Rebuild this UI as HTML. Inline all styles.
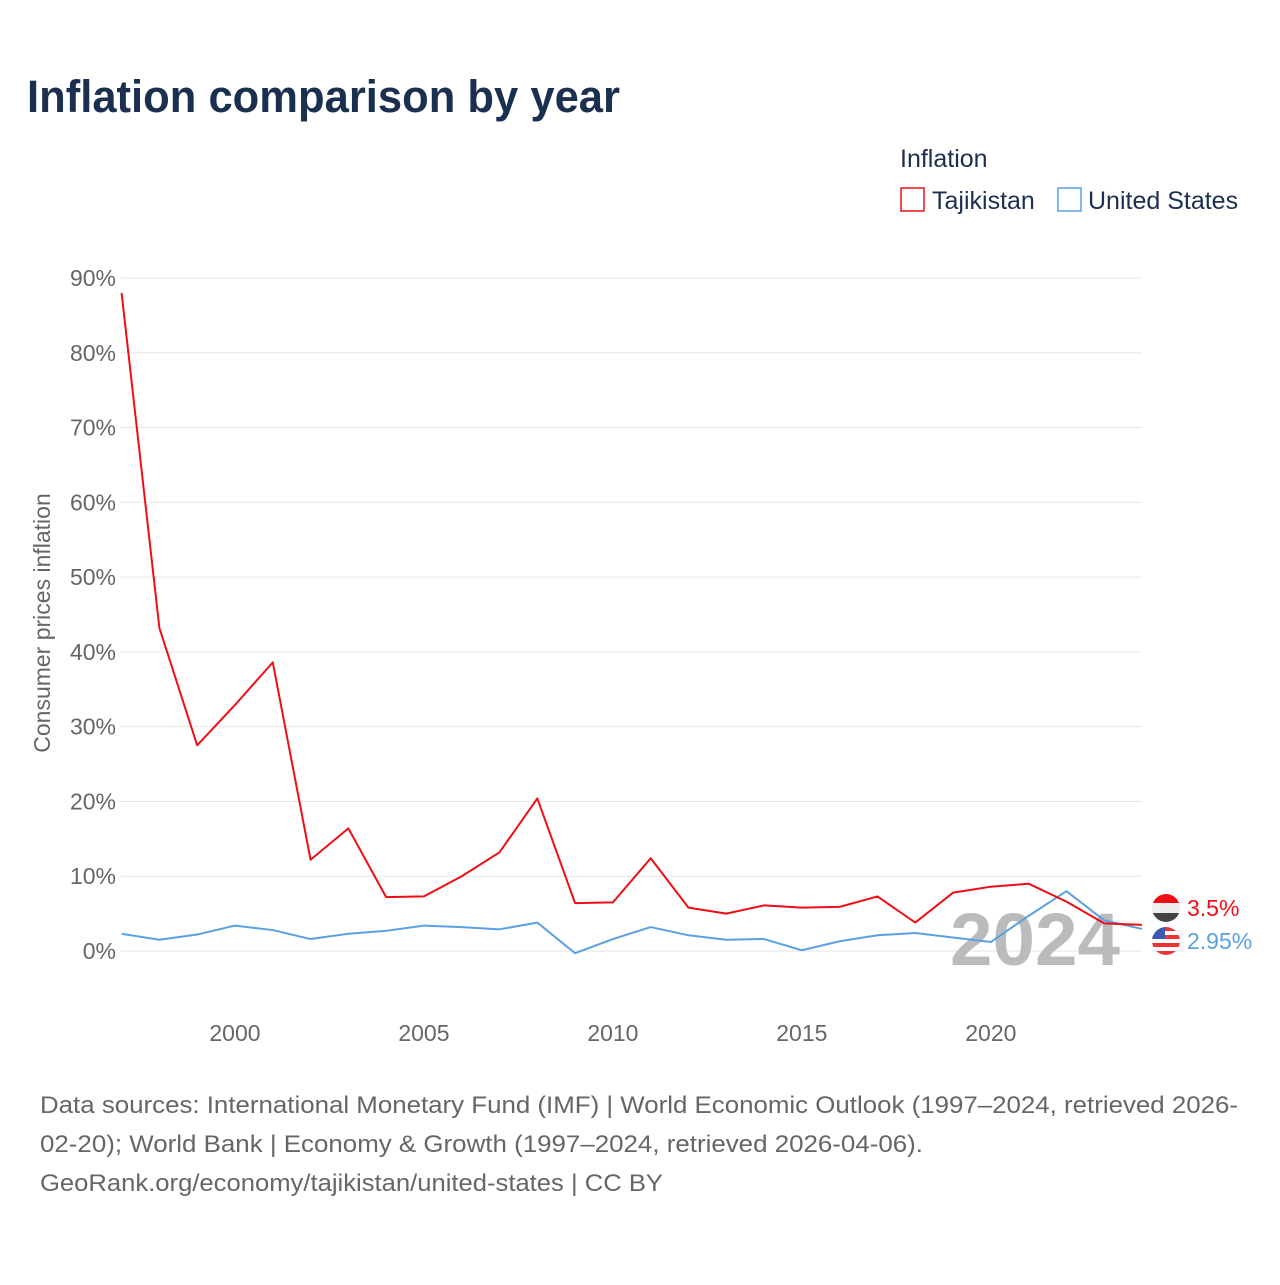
<!DOCTYPE html>
<html><head><meta charset="utf-8"><style>
body{margin:0;background:#fff;width:1280px;height:1280px;overflow:hidden;font-family:"Liberation Sans",sans-serif}
</style></head><body>
<svg width="1280" height="1280" xmlns="http://www.w3.org/2000/svg" font-family="Liberation Sans, sans-serif">
<defs>
<clipPath id="c1"><circle cx="1166" cy="908" r="14"/></clipPath>
<clipPath id="c2"><circle cx="1166" cy="941" r="14"/></clipPath>
</defs>
<text x="27" y="112" font-size="45" font-weight="bold" fill="#1b3050" textLength="593" lengthAdjust="spacingAndGlyphs">Inflation comparison by year</text>
<text x="900" y="167" font-size="25" fill="#1b3050">Inflation</text>
<g><rect x="901" y="188" width="23" height="23" fill="none" stroke="#f00e16" stroke-width="1.5"/><text x="932" y="209" font-size="25" fill="#1b3050">Tajikistan</text></g>
<g><rect x="1058" y="188" width="23" height="23" fill="none" stroke="#5aa1e3" stroke-width="1.5"/><text x="1088" y="209" font-size="25" fill="#1b3050">United States</text></g>
<g id="grid"></g>
<g id="yticks"></g>
<g id="xticks"></g>
<text transform="translate(50,623) rotate(-90)" text-anchor="middle" font-size="23" fill="#666">Consumer prices inflation</text>
<text x="1120" y="965" text-anchor="end" font-size="74" font-weight="bold" fill="#bbb" textLength="170" lengthAdjust="spacingAndGlyphs">2024</text>
<g id="series"></g>
<text x="40" y="1113" font-size="24" fill="#666" textLength="1198" lengthAdjust="spacingAndGlyphs">Data sources: International Monetary Fund (IMF) | World Economic Outlook (1997–2024, retrieved 2026-</text>
<text x="40" y="1152" font-size="24" fill="#666" textLength="883" lengthAdjust="spacingAndGlyphs">02-20); World Bank | Economy &amp; Growth (1997–2024, retrieved 2026-04-06).</text>
<text x="40" y="1191" font-size="24" fill="#666" textLength="623" lengthAdjust="spacingAndGlyphs">GeoRank.org/economy/tajikistan/united-states | CC BY</text>
</svg>
<script>
const years=[1997,1998,1999,2000,2001,2002,2003,2004,2005,2006,2007,2008,2009,2010,2011,2012,2013,2014,2015,2016,2017,2018,2019,2020,2021,2022,2023,2024];
const tajikistan=[88,43.2,27.5,32.9,38.6,12.2,16.4,7.2,7.3,10.0,13.2,20.4,6.4,6.5,12.4,5.8,5.0,6.1,5.8,5.9,7.3,3.8,7.8,8.6,9.0,6.6,3.7,3.5];
const unitedStates=[2.3,1.5,2.2,3.4,2.8,1.6,2.3,2.7,3.4,3.2,2.9,3.8,-0.3,1.6,3.2,2.1,1.5,1.6,0.1,1.3,2.1,2.4,1.8,1.2,4.7,8.0,4.1,2.95];
const yTicks=[0,10,20,30,40,50,60,70,80,90];
const xTicks=[2000,2005,2010,2015,2020];
const NS="http://www.w3.org/2000/svg";
const X=y=>121.6+(y-1997)*(1142-121.6)/27;
const Y=v=>951-v*(951-278)/90;
function mk(t,a,p){const e=document.createElementNS(NS,t);for(const k in a)e.setAttribute(k,a[k]);p.appendChild(e);return e;}
const grid=document.getElementById('grid'),yt=document.getElementById('yticks'),xt=document.getElementById('xticks'),ser=document.getElementById('series');
yTicks.forEach(v=>{
 const l=mk('line',{x1:121,x2:1142,y1:Y(v),y2:Y(v),stroke:'#e6e6e6','stroke-width':1},grid);
 
 
 const t=mk('text',{x:116,y:Y(v)+8,'text-anchor':'end','font-size':23,fill:'#666'},yt);t.textContent=v+'%';
 
 
});
xTicks.forEach(v=>{
 const t=mk('text',{x:X(v),y:1041,'text-anchor':'middle','font-size':23,fill:'#666'},xt);t.textContent=v;
 
 
});
function line(vals,color,name){
 const p=mk('polyline',{points:vals.map((v,i)=>X(years[i])+','+Y(v)).join(' '),fill:'none',stroke:color,'stroke-width':2,'stroke-linejoin':'round'},ser);
 
 
}
line(unitedStates,'#5aa1e3','line-united-states');
line(tajikistan,'#f00e16','line-tajikistan');
const lt=tajikistan[tajikistan.length-1],lu=unitedStates[unitedStates.length-1];
const f1=mk('g',{'clip-path':'url(#c1)'},ser);


mk('rect',{x:1152,y:894,width:28,height:9,fill:'#f00e16'},f1);
mk('rect',{x:1152,y:903,width:28,height:10,fill:'#eee'},f1);
mk('rect',{x:1152,y:913,width:28,height:9,fill:'#444'},f1);
const f2=mk('g',{'clip-path':'url(#c2)'},ser);


[0,1,2,3,4,5,6].forEach(i=>mk('rect',{x:1152,y:927+i*4,width:28,height:4,fill:i%2?'#fff':'#e33'},f2));
mk('rect',{x:1152,y:927,width:13,height:12,fill:'#3c5bb0'},f2);
const t1=mk('text',{x:1187,y:916,'font-size':23,fill:'#f00e16'},ser);t1.textContent=lt+'%';


const t2=mk('text',{x:1187,y:949,'font-size':23,fill:'#5aa1e3'},ser);t2.textContent=lu+'%';


</script>
</body></html>
